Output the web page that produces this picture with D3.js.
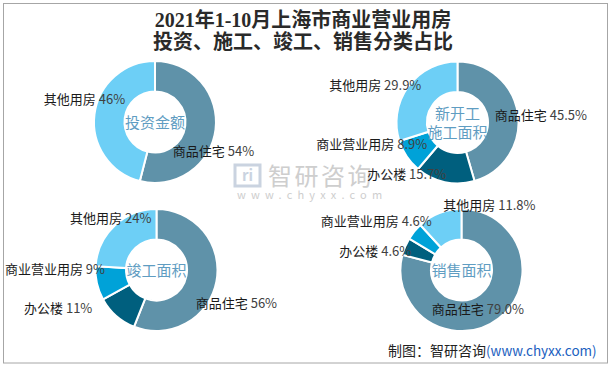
<!DOCTYPE html>
<html><head><meta charset="utf-8">
<script src="https://cdn.jsdelivr.net/npm/d3@7"></script>
<style>
html,body{margin:0;padding:0;background:#fff;}
svg{display:block;font-family:"Noto Sans CJK SC","Noto Sans",sans-serif;}
</style></head>
<body><svg id="c" width="613" height="368"></svg>
<script>
// ---- data ----
const titleLines = ["2021年1-10月上海市商业营业用房", "投资、施工、竣工、销售分类占比"];
const investCats = ["商品住宅", "其他用房"];
const investVals = [54, 46];
const startCats = ["商品住宅", "办公楼", "商业营业用房", "其他用房"];
const startVals = [45.5, 15.7, 8.9, 29.9];
const doneCats = ["商品住宅", "办公楼", "商业营业用房", "其他用房"];
const doneVals = [56, 11, 9, 24];
const saleCats = ["商品住宅", "办公楼", "商业营业用房", "其他用房"];
const saleVals = [79.0, 4.6, 4.6, 11.8];
const chartNames = [["投资金额"], ["新开工", "施工面积"], ["竣工面积"], ["销售面积"]];
const labelDecimals = [0, 1, 0, 1];
const sourceText = "制图：智研咨询";
const sourceUrl = "(www.chyxx.com)";

// ---- layout / style ----
const colorOf = {"商品住宅": "#5f92a9", "办公楼": "#005f7e", "商业营业用房": "#00a2d8", "其他用房": "#6dcff6"};
const centers = [[155, 122], [457.5, 122.5], [156.5, 270], [461.5, 270]];
const outerR = 61, innerR = 30.5;
// label nudges relative to the outer-edge point at each slice's mid angle
const labelNudges = [
  [[-2, 22], [-10, -15]],
  [[23, 2], [-38, -8], [-35, -12], [-33, -1]],
  [[20, 22], [-58, -7], [-42, -14], [-4, -7]],
  [[-21, -9], [-30, 5], [-38, -10], [50, -8]]
];

const charts = [
  {cats: investCats, vals: investVals},
  {cats: startCats, vals: startVals},
  {cats: doneCats, vals: doneVals},
  {cats: saleCats, vals: saleVals}
];

const svg = d3.select("#c");
svg.append("rect").attr("x", 3.5).attr("y", 3.5).attr("width", 604).attr("height", 359.5)
  .attr("fill", "#fff").attr("stroke", "#a6a6a6").attr("stroke-width", 1);

// title
svg.append("text").attr("x", 303).attr("y", 27).attr("text-anchor", "middle")
  .style("font-family", "'Liberation Serif','Noto Sans CJK SC',serif").style("font-weight", "bold")
  .style("font-size", "20px").attr("fill", "#2a2a2a")
  .selectAll("tspan").data(titleLines).join("tspan")
  .attr("x", 303).attr("dy", (d, i) => i ? 22 : 0).text(d => d);

// watermark
const wm = svg.append("g").attr("opacity", 0.9);
wm.append("rect").attr("x", 235).attr("y", 165).attr("width", 25).attr("height", 21).attr("fill", "none")
  .attr("stroke", "#c5cfdd").attr("stroke-width", 3);
wm.append("text").attr("x", 247.5).attr("y", 181).attr("text-anchor", "middle").attr("fill", "#c5cfdd")
  .style("font-size", "15px").style("font-weight", "bold").text("ri");
wm.append("text").attr("x", 268).attr("y", 185).attr("fill", "#c9c9c9").style("font-size", "24px")
  .style("letter-spacing", "2.5px").text("智研咨询");
wm.append("text").attr("x", 237).attr("y", 199).attr("fill", "#c9c9c9").style("font-size", "11px")
  .style("letter-spacing", "5.2px").text("www.chyxx.com");

const pie = d3.pie().sort(null).value(d => d.v);
const arc = d3.arc().innerRadius(innerR).outerRadius(outerR);

charts.forEach((c, ci) => {
  const [cx, cy] = centers[ci];
  const g = svg.append("g").attr("transform", `translate(${cx},${cy})`);
  const data = c.cats.map((k, i) => ({k, v: c.vals[i]}));
  const arcs = pie(data);
  g.selectAll("path").data(arcs).join("path")
    .attr("d", arc).attr("fill", d => colorOf[d.data.k])
    .attr("stroke", "#fff").attr("stroke-width", 2);

  // center name
  const names = chartNames[ci];
  g.append("text").attr("text-anchor", "middle").attr("fill", "#5f9dc2").style("font-size", "15px")
    .selectAll("tspan").data(names).join("tspan")
    .attr("x", 0).attr("y", (d, i) => (i - (names.length - 1) / 2) * 19 + 5.5).text(d => d);

  // labels
  const fmt = d3.format("." + labelDecimals[ci] + "f");
  arcs.forEach((a, i) => {
    const mid = (a.startAngle + a.endAngle) / 2;
    const px = outerR * Math.sin(mid), py = -outerR * Math.cos(mid);
    const [nx, ny] = labelNudges[ci][i];
    const t = g.append("text").attr("x", px + nx).attr("y", py + ny + 4.5)
      .attr("text-anchor", "middle").style("font-size", "13px");
    t.append("tspan").attr("fill", "#1a1a1a").text(a.data.k + " ");
    t.append("tspan").attr("fill", "#404040").text(fmt(a.data.v) + "%");
  });
});

// source
const src = svg.append("text").attr("x", 388).attr("y", 356).style("font-size", "14px");
src.append("tspan").attr("fill", "#222").text(sourceText);
src.append("tspan").attr("fill", "#2060c0").style("font-size", "13.5px").text(sourceUrl);
</script></body></html>
